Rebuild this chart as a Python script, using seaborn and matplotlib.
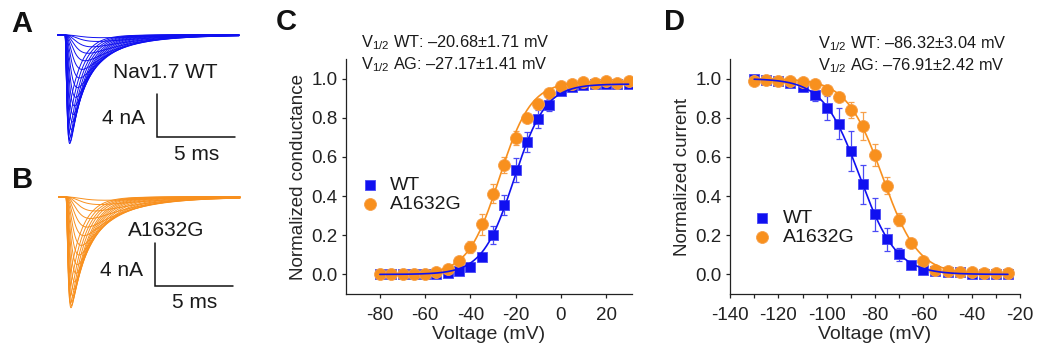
import numpy as np
import pandas as pd
import matplotlib
matplotlib.use("Agg")
import matplotlib.pyplot as plt
import seaborn as sns

# ------------------------------------------------------------------ data
# Panel C: activation (normalized conductance)
volt_act = [-80, -75, -70, -65, -60, -55, -50, -45, -40, -35, -30, -25, -20,
            -15, -10, -5, 0, 5, 10, 15, 20, 25, 30]
wt_act = [0, 0, 0, 0, 0, 0.002, 0.005, 0.015, 0.04, 0.09, 0.20, 0.354, 0.532,
          0.675, 0.794, 0.867, 0.935, 0.955, 0.965, 0.97, 0.97, 0.97, 0.97]
wt_act_err = [0, 0, 0, 0, 0, 0, 0.003, 0.005, 0.01, 0.02, 0.045, 0.05, 0.06,
              0.05, 0.045, 0.03, 0.02, 0.015, 0.01, 0.01, 0.01, 0.01, 0.01]
ag_act = [0, 0, 0, 0, 0.002, 0.01, 0.03, 0.07, 0.14, 0.255, 0.413, 0.558, 0.696,
          0.80, 0.87, 0.927, 0.964, 0.97, 0.985, 0.98, 0.99, 0.98, 0.99]
ag_act_err = [0, 0, 0, 0, 0, 0.005, 0.01, 0.015, 0.03, 0.055, 0.05, 0.04, 0.035,
              0.02, 0.015, 0.01, 0.01, 0.01, 0.01, 0.01, 0.01, 0.01, 0.01]
act_vhalf = [-20.68, -27.17]      # WT, A1632G
act_vhalf_sem = [1.71, 1.41]
act_slope = [7.0, 7.0]
act_max = [0.972, 0.985]

# Panel D: steady-state fast inactivation (normalized current)
volt_inact = [-130, -125, -120, -115, -110, -105, -100, -95, -90, -85, -80, -75,
              -70, -65, -60, -55, -50, -45, -40, -35, -30, -25]
wt_inact = [1.0, 0.995, 0.99, 0.975, 0.955, 0.918, 0.85, 0.77, 0.63, 0.46, 0.306,
            0.18, 0.103, 0.05, 0.025, 0.015, 0.01, 0.01, 0.0, 0.0, 0.0, 0.0]
wt_inact_err = [0.005, 0.005, 0.005, 0.01, 0.015, 0.035, 0.06, 0.08, 0.10, 0.10,
                0.082, 0.058, 0.033, 0.012, 0.008, 0.005, 0.005, 0.005, 0.003,
                0.003, 0.003, 0.003]
ag_inact = [0.99, 0.995, 0.99, 0.99, 0.985, 0.97, 0.944, 0.905, 0.84, 0.757, 0.612,
            0.454, 0.28, 0.158, 0.071, 0.025, 0.02, 0.01, 0.01, 0.005, 0.005, 0.005]
ag_inact_err = [0.005, 0.005, 0.005, 0.005, 0.005, 0.01, 0.015, 0.02, 0.04, 0.07,
                0.056, 0.045, 0.035, 0.015, 0.01, 0.005, 0.005, 0.005, 0.005,
                0.005, 0.005, 0.005]
inact_vhalf = [-86.32, -76.91]    # WT, A1632G
inact_vhalf_sem = [3.04, 2.42]
inact_slope = [7.6, 7.4]

# Panels A/B: family of sodium current sweeps (peak nA, activation / decay time constants ms)
wt_amp = [0.25, 0.6, 1.1, 1.7, 2.4, 3.2, 4.0, 4.9, 5.8, 6.6, 7.4, 8.1, 8.8, 9.4,
          9.9, 10.1, 9.7, 9.0, 8.0, 6.8]
wt_tau_m = [0.9, 0.75, 0.62, 0.52, 0.44, 0.37, 0.31, 0.26, 0.22, 0.19, 0.16,
            0.14, 0.12, 0.105, 0.095, 0.085, 0.078, 0.072, 0.066, 0.06]
wt_tau_h = [4.0, 3.6, 3.2, 2.9, 2.6, 2.3, 2.05, 1.85, 1.65, 1.5, 1.38, 1.27,
            1.18, 1.1, 1.03, 0.97, 0.92, 0.88, 0.84, 0.8]
ag_amp = [0.3, 0.7, 1.3, 2.0, 2.8, 3.6, 4.5, 5.4, 6.3, 7.1, 7.9, 8.6, 9.2, 9.7,
          10.1, 10.3, 9.9, 9.2, 8.2, 7.0]
ag_tau_m = [0.95, 0.8, 0.66, 0.55, 0.46, 0.38, 0.32, 0.27, 0.23, 0.2, 0.17,
            0.15, 0.13, 0.115, 0.1, 0.09, 0.082, 0.075, 0.07, 0.065]
ag_tau_h = [4.2, 3.8, 3.4, 3.05, 2.75, 2.45, 2.2, 1.95, 1.75, 1.6, 1.45, 1.33,
            1.23, 1.15, 1.08, 1.02, 0.96, 0.92, 0.88, 0.84]
trace_t_start, trace_t_end = -0.45, 11.15
scale_ms, scale_nA = 5, 4

labels = ["WT", "A1632G"]
BLUE = "#1010f0"
ORANGE = "#f8901e"
BLUE_E = "#4a4af5"
ORANGE_E = "#f7a04a"

# ------------------------------------------------------------------ style
sns.set_theme(style="ticks")
plt.rcParams["font.family"] = ["Liberation Sans", "DejaVu Sans"]
plt.rcParams["mathtext.fontset"] = "custom"
plt.rcParams["mathtext.rm"] = "Liberation Sans"
plt.rcParams["mathtext.it"] = "Liberation Sans:italic"
plt.rcParams["axes.edgecolor"] = "#222222"
plt.rcParams["axes.linewidth"] = 0.9
plt.rcParams["xtick.color"] = "#222222"
plt.rcParams["ytick.color"] = "#222222"
plt.rcParams["text.color"] = "#1a1a1a"

W, H = 1037, 348
fig = plt.figure(figsize=(W / 100, H / 100), dpi=100)


def fx(px):
    return px / W


def fy(py):
    return 1 - py / H


# ------------------------------------------------------------------ traces A / B
def trace_frame(amps, taus_m, taus_h):
    t = np.linspace(trace_t_start, trace_t_end, 900)
    tp = np.clip(t, 0, None)
    rows = []
    fine = np.linspace(0, 15, 20000)
    for i, (a, tm, th) in enumerate(zip(amps, taus_m, taus_h)):
        shape = (1 - np.exp(-tp / tm)) ** 3 * np.exp(-tp / th)
        norm = ((1 - np.exp(-fine / tm)) ** 3 * np.exp(-fine / th)).max()
        cur = -a * shape / norm
        rows.append(pd.DataFrame({"t": t, "I": cur, "sweep": i}))
    return pd.concat(rows, ignore_index=True)


def trace_panel(box, onset_px, base_px, amps, tm, th, color, name, name_px,
                bar_px, nA_px, ms_px):
    x0, x1, y0, y1 = box
    pxms, pxnA = 15.6, 10.75
    ax = fig.add_axes([fx(x0), fy(y1), fx(x1) - fx(x0), (y1 - y0) / H])
    df = trace_frame(amps, tm, th)
    sns.lineplot(data=df, x="t", y="I", units="sweep", estimator=None,
                 color=color, lw=0.7, ax=ax, legend=False, sort=False)
    ax.set_xlim((x0 - onset_px) / pxms, (x1 - onset_px) / pxms)
    ax.set_ylim((base_px - y1) / pxnA, (base_px - y0) / pxnA)
    ax.axis("off")

    def d(px, py):
        return (px - onset_px) / pxms, (base_px - py) / pxnA

    bx, by_top = d(*bar_px)
    by_bot = by_top - scale_nA
    ax.plot([bx, bx, bx + scale_ms], [by_top, by_bot, by_bot], color="#111111",
            lw=1.1, solid_joinstyle="miter")
    tx, ty = d(*name_px)
    ax.text(tx, ty, name, fontsize=15, ha="left", va="center")
    tx, ty = d(*nA_px)
    ax.text(tx, ty, f"{scale_nA} nA", fontsize=15, ha="right", va="center")
    tx, ty = d(*ms_px)
    ax.text(tx, ty, f"{scale_ms} ms", fontsize=15, ha="center", va="center")
    return ax


trace_panel((40, 250, 20, 165), 65, 35, wt_amp, wt_tau_m, wt_tau_h, BLUE,
            "Nav1.7 WT", (113, 73), (157, 94), (145, 118), (197, 154))
trace_panel((40, 250, 182, 330), 66, 197, ag_amp, ag_tau_m, ag_tau_h, ORANGE,
            "A1632G", (128, 230), (155, 243), (143, 270), (195, 302))


# ------------------------------------------------------------------ C / D
def boltz_panel(pos, volts, wt, wt_e, ag, ag_e, vhalf, vsem, slope, vmax, kind,
                xlim, xticks, minor, ylabel, annot_px, leg_anchor):
    ax = fig.add_axes(pos)
    v = np.asarray(volts, float)
    vv = np.linspace(v.min(), v.max(), 400)
    series = [(wt, wt_e, BLUE, BLUE_E, "s", 7.6), (ag, ag_e, ORANGE, ORANGE_E, "o", 8.6)]
    for i, (y, e, c, ce, m, ms) in enumerate(series):
        ax.errorbar(v, y, yerr=e, fmt="none", ecolor=ce, elinewidth=0.9,
                    capsize=2.2, capthick=0.9, zorder=2)
    for i, (y, e, c, ce, m, ms) in enumerate(series):
        sns.scatterplot(x=v, y=y, marker=m, s=ms ** 2, color=c, edgecolor=ce,
                        linewidth=0.6, ax=ax, label=labels[i], zorder=3 + i)
    for i in (1, 0):
        if kind == "act":
            fit = vmax[i] / (1 + np.exp((vhalf[i] - vv) / slope[i]))
        else:
            fit = 1 / (1 + np.exp((vv - vhalf[i]) / slope[i]))
        sns.lineplot(x=vv, y=fit, color=series[i][2], lw=1.2, ax=ax,
                     zorder=6 - i, legend=False)
    ax.set_xlim(*xlim)
    ax.set_ylim(-0.1, 1.1)
    ax.set_xticks(xticks)
    ax.set_xticklabels([f"{t:g}" for t in xticks])
    if minor:
        ax.set_xticks(minor, minor=True)
    ax.set_yticks([0, 0.2, 0.4, 0.6, 0.8, 1.0])
    ax.set_yticklabels([f"{t:.1f}" for t in [0, 0.2, 0.4, 0.6, 0.8, 1.0]])
    ax.tick_params(axis="both", which="both", direction="out", length=3,
                   width=0.9, labelsize=13.5, pad=3)
    ax.tick_params(axis="x", which="both", pad=6)
    ax.set_xlabel("Voltage (mV)", fontsize=14, labelpad=1.5)
    ax.set_ylabel(ylabel, fontsize=13.5, labelpad=3)
    sns.despine(ax=ax)
    ax.legend(loc="center left", bbox_to_anchor=leg_anchor, frameon=False,
              fontsize=14, handlelength=1.0, handletextpad=0.55,
              labelspacing=0.05, borderpad=0, borderaxespad=0)
    for (px, py), tag, vh, se in zip(annot_px, ["WT", "AG"], vhalf, vsem):
        fig.text(fx(px), fy(py),
                 r"V$_{\mathrm{1/2}}$ " + f"{tag}: \u2013{abs(vh):.2f}\u00b1{se:.2f} mV",
                 fontsize=11.8, ha="left", va="center")
    return ax


top_px, bot_px = 59, 294
boltz_panel([fx(346), fy(bot_px), fx(632) - fx(346), (bot_px - top_px) / H],
            volt_act, wt_act, wt_act_err, ag_act, ag_act_err,
            act_vhalf, act_vhalf_sem, act_slope, act_max, "act", (-95, 31.5),
            [-80, -60, -40, -20, 0, 20], None, "Normalized conductance",
            ((361, 43), (361, 65)), (0.049, 0.423))
boltz_panel([fx(730), fy(bot_px), fx(1020) - fx(730), (bot_px - top_px) / H],
            volt_inact, wt_inact, wt_inact_err, ag_inact, ag_inact_err,
            inact_vhalf, inact_vhalf_sem, inact_slope, None, "inact", (-140, -20),
            [-140, -120, -100, -80, -60, -40, -20],
            [-130, -110, -90, -70, -50, -30], "Normalized current",
            ((818, 44), (818, 66)), (0.077, 0.282))

# panel letters
for letter, (px, py) in zip("ABCD", [(22, 24), (23, 180), (286, 22), (674, 22)]):
    fig.text(fx(px), fy(py), letter, fontsize=21, fontweight="bold",
             ha="center", va="center", color="#111111")

fig.savefig("out.png", dpi=100)
